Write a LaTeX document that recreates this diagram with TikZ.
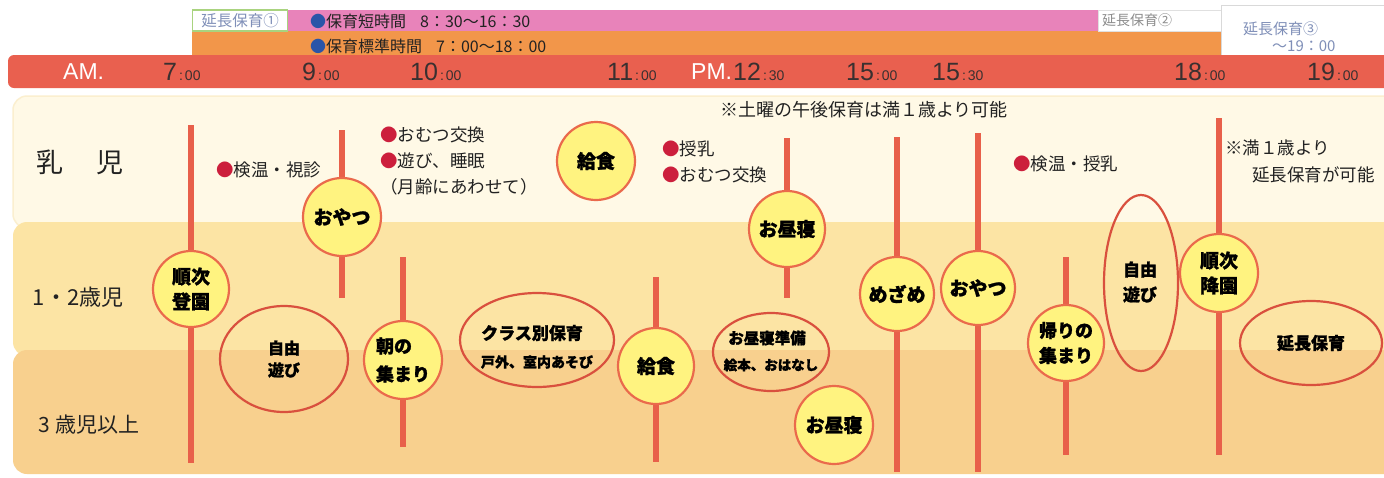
\documentclass[tikz,border=0pt]{standalone}
\usepackage{fontspec}
\setmainfont{Noto Sans CJK JP}[BoldFeatures={FakeBold=1.3}]
\newfontfamily\lat{Liberation Sans}
\usetikzlibrary{shapes.geometric}
\definecolor{rowa}{HTML}{FFF9E6}
\definecolor{rowaedge}{HTML}{FBEFCF}
\definecolor{rowb}{HTML}{FCE4A4}
\definecolor{rowc}{HTML}{F8D08E}
\definecolor{redbar}{HTML}{E9604F}
\definecolor{pinkbar}{HTML}{E883BA}
\definecolor{orbar}{HTML}{F2964A}
\definecolor{linec}{HTML}{E8604A}
\definecolor{yel}{HTML}{FFF380}
\definecolor{circb}{HTML}{EA6A4C}
\definecolor{ellb}{HTML}{D9503E}
\definecolor{txt}{HTML}{222222}
\definecolor{tmc}{HTML}{3A3030}
\definecolor{dotr}{HTML}{CC1F3C}
\definecolor{dotb}{HTML}{2A55A8}
\definecolor{exttxt}{HTML}{7F8FB8}
\definecolor{extgreen}{HTML}{A9D37F}
\pgfdeclarelayer{bg}\pgfdeclarelayer{ln}\pgfsetlayers{bg,ln,main}
\newcommand\rdot{\textcolor{dotr}{●}}
\newcommand\bdot{\textcolor{dotb}{●}}
\newcommand\tmx[2]{{\fontsize{25}{25}\selectfont #1}\kern2pt{\fontsize{14}{14}\selectfont :\kern2pt#2}}
\begin{document}
\begin{tikzpicture}[x=1pt,y=-1pt,
  evt/.style={circle,draw=circb,line width=2.2pt,fill=yel,inner sep=0pt,align=center,minimum size=76pt,font=\bfseries\fontsize{19}{25}\selectfont},
  ell/.style={ellipse,draw=ellb,line width=2.2pt,inner sep=0pt},
  etxt/.style={align=center,inner sep=0pt,font=\bfseries},
  vl/.style={draw=linec,line width=6pt},
  rowlab/.style={inner sep=0pt,text=txt},
  note/.style={anchor=west,inner sep=0pt,font=\fontsize{17.5}{26}\selectfont,text=txt,align=left},
  tm/.style={anchor=west,inner sep=0pt,text=tmc,font=\lat},
  ]
\useasboundingbox (0,0) rectangle (1384,477);
\begin{pgfonlayer}{bg}
\fill[white] (0,0) rectangle (1384,477);
\draw[fill=rowa,draw=rowaedge,line width=1.5pt,rounded corners=14pt] (13,96) rectangle (1420,228);
\fill[rowb,rounded corners=14pt] (13,222) rectangle (1420,356);
\fill[rowc,rounded corners=14pt] (13,350) rectangle (1420,474);
\end{pgfonlayer}
% top bars
\fill[pinkbar] (288,10) rectangle (1098,31);
\fill[orbar] (192,31) rectangle (1222,55);
\node[draw=extgreen,line width=1.5pt,fill=white,minimum width=95pt,minimum height=21pt,inner sep=0pt,text=exttxt,font=\fontsize{15.5}{15.5}\selectfont] (ext1) at (240,20.5) {延長保育①};
\node[draw=black!12,line width=0.8pt,fill=white,minimum width=123pt,minimum height=21pt,inner sep=0pt,text=black!45,font=\fontsize{14}{14}\selectfont] (ext2) at (1160,20.5) {\hspace*{-46pt}延長保育②};
\node[draw=black!15,line width=0.8pt,fill=white,minimum width=163pt,minimum height=52pt,inner sep=0pt] (ext3) at (1303,31) {};
\node[inner sep=0pt,text=exttxt,font=\fontsize{15}{15}\selectfont,anchor=west] (ext3a) at (1243,29) {延長保育③};
\node[inner sep=0pt,text=exttxt,font=\fontsize{15}{15}\selectfont,anchor=west] (ext3b) at (1272,46) {～19：00};
\node[anchor=west,inner sep=0pt,text=txt,font=\fontsize{16}{16}\selectfont] (short) at (310,21) {\bdot 保育短時間\hspace{14pt}8：30～16：30};
\node[anchor=west,inner sep=0pt,text=txt,font=\fontsize{16}{16}\selectfont] (std) at (310,46) {\bdot 保育標準時間\hspace{14pt}7：00～18：00};
% red time bar
\fill[redbar,rounded corners=6pt] (8,55) rectangle (1400,88);
\node[tm,text=white,font=\lat\fontsize{23}{23}\selectfont] (am) at (63,72) {AM.};
\node[tm] (t7) at (163,72) {\tmx{7}{00}};
\node[tm] (t9) at (302,72) {\tmx{9}{00}};
\node[tm] (t10) at (410,72) {\tmx{10}{00}};
\node[tm] (t11) at (607,72) {\tmx{11}{00}};
\node[tm,text=white,font=\lat\fontsize{23}{23}\selectfont] (pm) at (691,72) {PM.};
\node[tm] (t12) at (733,72) {\tmx{12}{30}};
\node[tm] (t15) at (846,72) {\tmx{15}{00}};
\node[tm] (t153) at (932,72) {\tmx{15}{30}};
\node[tm] (t18) at (1174,72) {\tmx{18}{00}};
\node[tm] (t19) at (1307,72) {\tmx{19}{00}};
% row labels
\node[rowlab,font=\fontsize{27}{27}\selectfont] (r1) at (80,162) {乳\hspace{33pt}児};
\node[rowlab,font=\fontsize{22}{22}\selectfont] (r2) at (78,297) {1・2歳児};
\node[rowlab,font=\fontsize{21}{21}\selectfont] (r3) at (89,425) {3 歳児以上};
% notes
\node[note] (n1) at (216,170) {\rdot 検温・視診};
\node[note] (n2) at (380,161) {\rdot おむつ交換\\\rdot 遊び、睡眠\\（月齢にあわせて）};
\node[note] (n3) at (662,162) {\rdot 授乳\\\rdot おむつ交換};
\node[note,font=\fontsize{18}{18}\selectfont] (n4) at (720,110) {※土曜の午後保育は満１歳より可能};
\node[note] (n5) at (1013,164) {\rdot 検温・授乳};
\node[note,font=\fontsize{17.5}{27}\selectfont] (n6) at (1225,161) {※満１歳より\\\hspace*{27pt}延長保育が可能};
% circles
\node[evt] (c1) at (191,289) {順次\\登園};
\node[evt,minimum size=78pt] (c2) at (342,217) {おやつ};
\node[evt,minimum size=78pt,align=left,font=\bfseries\fontsize{18}{28}\selectfont] (c3) at (403,360) {朝の\\集まり};
\node[evt] (c4) at (656,366) {給食};
\node[evt] (c5) at (787,229) {お昼寝};
\node[evt,minimum size=74pt] (c6) at (897,294) {めざめ};
\node[evt,minimum size=74pt] (c7) at (978,288) {おやつ};
\node[evt,align=left,font=\bfseries\fontsize{18}{25}\selectfont] (c8) at (1066,343) {帰りの\\集まり};
\node[evt,minimum size=78pt] (c9) at (1219,273) {順次\\降園};
\node[evt,minimum size=78pt] (c10) at (596,161) {給食};
\node[evt,minimum size=78pt] (c11) at (834,425) {お昼寝};
% ellipses
\node[ell,minimum width=128pt,minimum height=106pt] (e1) at (284,359) {};
\node[etxt,font=\bfseries\fontsize{16}{22}\selectfont] (e1t) at (e1) {自由\\遊び};
\node[ell,minimum width=154pt,minimum height=94pt] (e2) at (537,340) {};
\node[etxt,font=\bfseries\fontsize{17}{17}\selectfont] (e2t) at (532,333) {クラス別保育};
\node[etxt,font=\bfseries\fontsize{14}{14}\selectfont] (e2u) at (537,362) {戸外、室内あそび};
\node[ell,minimum width=116pt,minimum height=78pt] (e3) at (771,352) {};
\node[etxt,font=\bfseries\fontsize{15.5}{15.5}\selectfont] (e3t) at (767,338) {お昼寝準備};
\node[etxt,font=\bfseries\fontsize{13.5}{13.5}\selectfont] (e3u) at (771,365) {絵本、おはなし};
\node[ell,minimum width=74pt,minimum height=176pt] (e4) at (1141,283) {};
\node[etxt,font=\bfseries\fontsize{17}{25}\selectfont] (e4t) at (1140,282) {自由\\遊び};
\node[ell,minimum width=142pt,minimum height=84pt] (e5) at (1311,343) {};
\node[etxt,font=\bfseries\fontsize{17}{17}\selectfont] (e5t) at (e5) {延長保育};
% vertical lines
\coordinate (a1) at (191,125); \coordinate (b1) at (191,463);
\coordinate (a2) at (342,130); \coordinate (b2) at (342,298);
\coordinate (a3) at (403,257); \coordinate (b3) at (403,447);
\coordinate (a4) at (656,277); \coordinate (b4) at (656,462);
\coordinate (a5) at (787,138); \coordinate (b5) at (787,298);
\coordinate (a6) at (897,137); \coordinate (b6) at (897,472);
\coordinate (a7) at (978,133); \coordinate (b7) at (978,472);
\coordinate (a8) at (1066,257); \coordinate (b8) at (1066,455);
\coordinate (a9) at (1219,118); \coordinate (b9) at (1219,455);
\begin{pgfonlayer}{ln}
\foreach \i in {1,...,9} {
  \draw[vl] (a\i) -- (c\i);
  \draw[vl] (c\i) -- (b\i);
}
\end{pgfonlayer}
\end{tikzpicture}
\end{document}
